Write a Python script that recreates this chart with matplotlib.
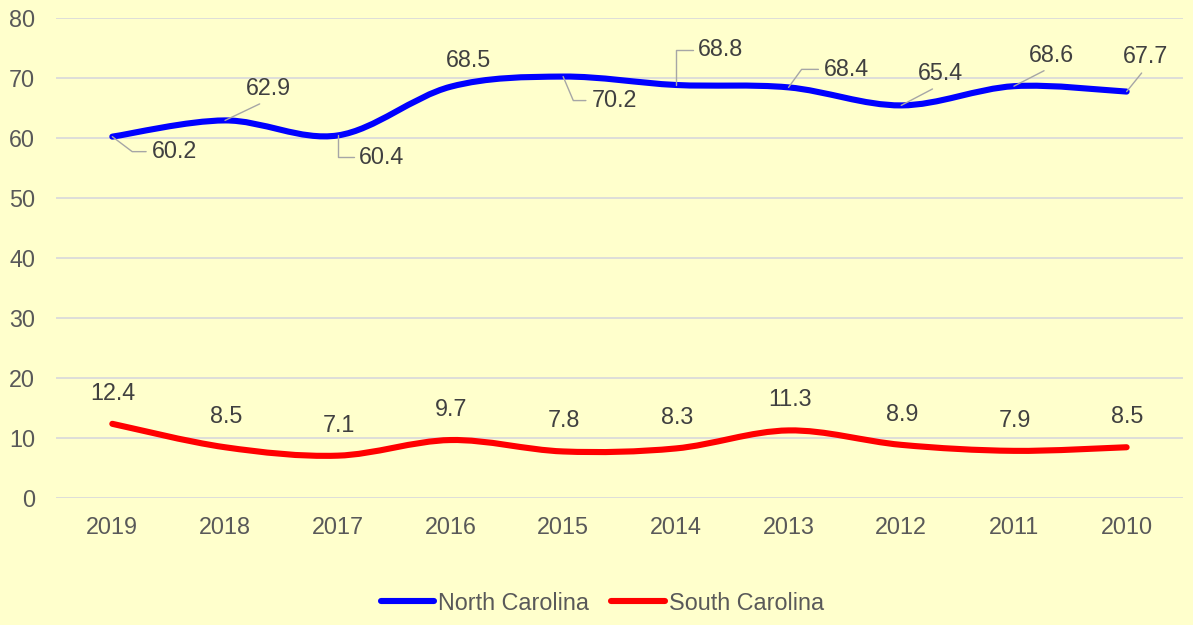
import matplotlib.pyplot as plt
from matplotlib.path import Path
from matplotlib.patches import PathPatch
from matplotlib.lines import Line2D
import numpy as np

years = ["2019", "2018", "2017", "2016", "2015", "2014", "2013", "2012", "2011", "2010"]
north_carolina = [60.2, 62.9, 60.4, 68.5, 70.2, 68.8, 68.4, 65.4, 68.6, 67.7]
south_carolina = [12.4, 8.5, 7.1, 9.7, 7.8, 8.3, 11.3, 8.9, 7.9, 8.5]

# label placement for the North Carolina values (offset in pixels, leader style)
nc_offsets = [(62, -15), (43, 32), (44, -22), (18.5, 26), (51, -24),
              (45, 35), (58, 18), (39, 32), (38, 31), (19, 35)]
nc_leaders = [-37, "up", 90, None, -67, 90, 54, "up", "up", "up"]

plt.rcParams['font.family'] = ['Liberation Sans', 'DejaVu Sans']
bg = '#FFFFCC'
txt = '#404040'
fs = 16.8


def smooth_path(ys):
    # Excel-like smoothed line: cubic bezier through every point
    pts = np.column_stack([np.arange(len(ys)), ys]).astype(float)
    ext = np.vstack([pts[0], pts, pts[-1]])
    verts = [pts[0]]
    codes = [Path.MOVETO]
    for i in range(len(pts) - 1):
        p0, p1, p2, p3 = ext[i], ext[i + 1], ext[i + 2], ext[i + 3]
        verts += [p1 + (p2 - p0) / 6, p2 - (p3 - p1) / 6, p2]
        codes += [Path.CURVE4] * 3
    return Path(verts, codes)


fig = plt.figure(figsize=(11.93, 6.25), dpi=100, facecolor=bg)
ax = fig.add_axes([0.0469, 0.2027, 0.9447, 0.769])
ax.set_facecolor(bg)

for ys, col in [(north_carolina, '#0000FF'), (south_carolina, '#FF0000')]:
    ax.add_patch(PathPatch(smooth_path(ys), fill=False, edgecolor=col, lw=4.4,
                           capstyle='round', joinstyle='round', zorder=3))

ax.set_xlim(-0.5, len(years) - 0.5)
ax.set_ylim(0, 80)
ax.set_xticks(range(len(years)))
ax.set_xticklabels(years)
ax.set_yticks(range(0, 81, 10))
ax.tick_params(length=0, labelsize=fs, labelcolor='#595959')
ax.tick_params(axis='y', pad=15)
ax.tick_params(axis='x', pad=12.5)
ax.grid(axis='y', color='#D4D4DC', lw=1.1)
ax.set_axisbelow(True)
for s in ax.spines.values():
    s.set_visible(False)

for i, v in enumerate(north_carolina):
    lead = nc_leaders[i]
    ap = None
    if lead == "up":
        ap = dict(arrowstyle='-', color='#A6A6A6', lw=1.0, relpos=(0.5, 0),
                  shrinkA=2, shrinkB=0)
    elif lead is not None:
        ap = dict(arrowstyle='-', color='#A6A6A6', lw=1.0, relpos=(0, 0.5),
                  connectionstyle=f'angle,angleA=0,angleB={lead},rad=0',
                  shrinkA=2, shrinkB=0)
    ax.annotate(f"{v}", (i, v), xytext=nc_offsets[i], textcoords='offset pixels',
                ha='center', va='center', fontsize=fs, color=txt,
                arrowprops=ap, zorder=4)

for i, v in enumerate(south_carolina):
    ax.annotate(f"{v}", (i, v), xytext=(1, 24), textcoords='offset pixels',
                ha='center', va='baseline', fontsize=fs, color=txt, zorder=4)

handles = [Line2D([], [], color='#0000FF', lw=4.4, solid_capstyle='round'),
           Line2D([], [], color='#FF0000', lw=4.4, solid_capstyle='round')]
fig.legend(handles, ["North Carolina", "South Carolina"], loc='center',
           bbox_to_anchor=(0.505, 0.035), ncol=2, frameon=False, fontsize=fs,
           handlelength=2.3, handletextpad=0.17, columnspacing=0.95,
           labelcolor='#595959')

fig.savefig('out.png', dpi=100, facecolor=bg)
